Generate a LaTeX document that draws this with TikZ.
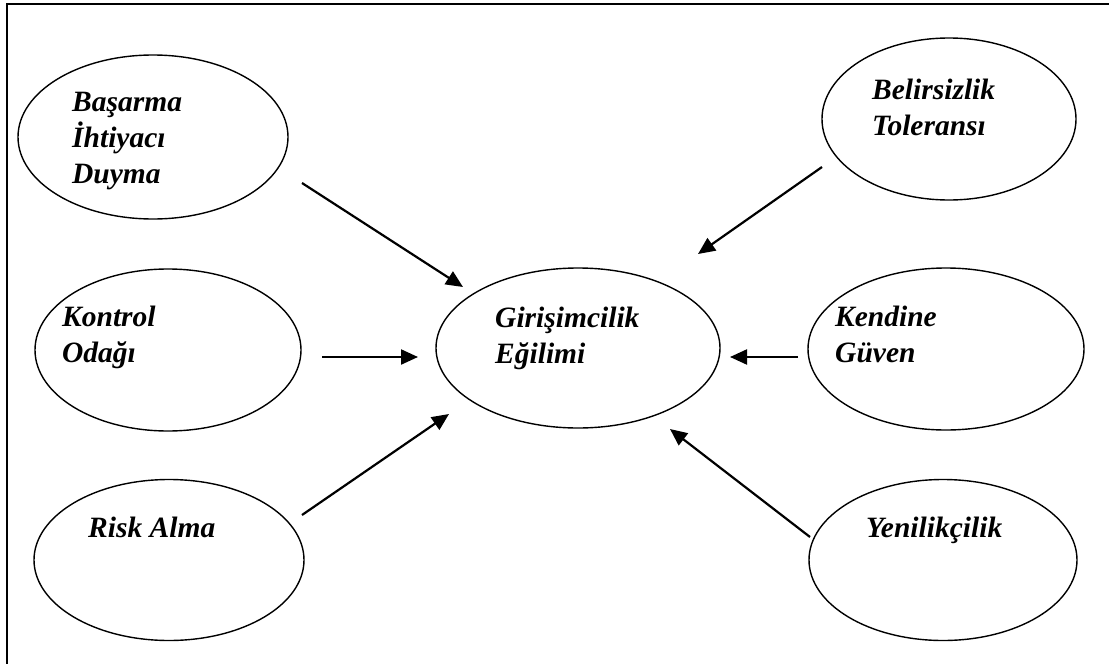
\documentclass[tikz,border=0pt]{standalone}
\usepackage{fontspec}
\setmainfont{Liberation Serif}
\usetikzlibrary{shapes.geometric,arrows.meta}

\tikzset{
  oval/.style={draw, ellipse, line width=1.4pt, inner sep=0pt},
  etiket/.style={font=\fontsize{29.5}{36}\selectfont\bfseries\itshape, align=left, inner sep=0pt, anchor=base west},
  ok/.style={-{Triangle[length=17pt,width=15pt]}, line width=2.2pt}
}

\begin{document}
\begin{tikzpicture}[x=1pt, y=-1pt]
  \useasboundingbox (0,0) rectangle (1109,664);
  \clip (0,0) rectangle (1109,664);
  % cerceve (sag ve alt kenar kesik)
  \draw[line width=2.2pt] (7,700) -- (7,4) -- (1120,4);

  % ovaller
  \node[oval, minimum width=270pt, minimum height=164pt] (basarma) at (153,137) {};
  \node[oval, minimum width=254pt, minimum height=162pt] (belirsiz) at (949,119) {};
  \node[oval, minimum width=284pt, minimum height=160pt] (girisim) at (578,348) {};
  \node[oval, minimum width=266pt, minimum height=162pt] (kontrol) at (168,350) {};
  \node[oval, minimum width=276pt, minimum height=162pt] (kendine) at (946,349) {};
  \node[oval, minimum width=270pt, minimum height=161pt] (risk) at (169,560) {};
  \node[oval, minimum width=268pt, minimum height=161pt] (yenilik) at (943,560) {};

  % etiketler (taban cizgisi = son satir)
  \node[etiket] (basarma-t) at (72,183) {Başarma\\İhtiyacı\\Duyma};
  \node[etiket] (belirsiz-t) at (872,135) {Belirsizlik\\Toleransı};
  \node[etiket] (girisim-t) at (495,363) {Girişimcilik\\Eğilimi};
  \node[etiket] (kontrol-t) at (62,362) {Kontrol\\Odağı};
  \node[etiket] (kendine-t) at (835,362) {Kendine\\Güven};
  \node[etiket] (risk-t) at (88,537) {Risk Alma};
  \node[etiket] (yenilik-t) at (866,537) {Yenilikçilik};

  % ok uclari
  \coordinate (a1) at (302,183); \coordinate (b1) at (463,287);
  \coordinate (a2) at (822,167); \coordinate (b2) at (698,254);
  \coordinate (a3) at (322,357); \coordinate (b3) at (418,357);
  \coordinate (a4) at (798,357); \coordinate (b4) at (730,357);
  \coordinate (a5) at (302,515); \coordinate (b5) at (449,414);
  \coordinate (a6) at (810,537); \coordinate (b6) at (670,429);

  % oklar
  \foreach \i in {1,...,6}
    \draw[ok] (a\i) -- (b\i);
\end{tikzpicture}
\end{document}
